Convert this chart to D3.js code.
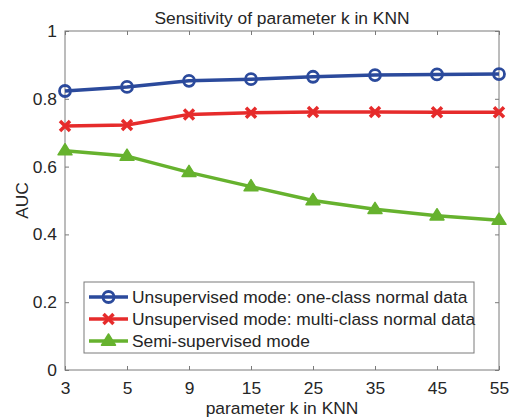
<!DOCTYPE html>
<html><head><meta charset="utf-8">
<script src="https://cdn.jsdelivr.net/npm/d3@7"></script>
<style>
body{margin:0;background:#fff;}
text{font-family:"Liberation Sans",Arial,sans-serif;fill:#262626;}
</style></head>
<body><svg id="c" width="510" height="418"></svg>
<script>
const categories = ["3","5","9","15","25","35","45","55"];
const oneClass = [0.823,0.835,0.853,0.858,0.865,0.870,0.872,0.873];
const multiClass = [0.720,0.723,0.754,0.759,0.761,0.761,0.760,0.760];
const semiSup = [0.647,0.631,0.583,0.541,0.500,0.474,0.455,0.442];
const yTicks = [0,0.2,0.4,0.6,0.8,1];
const seriesNames = ["Unsupervised mode: one-class normal data","Unsupervised mode: multi-class normal data","Semi-supervised mode"];
const colors = ["#2b4a9c","#e62b2b","#66b22e"];
const markers = ["circle","cross","triangle"];

const svg = d3.select("#c");
const L=65,R=499,T=31,B=370;
const FS="17.4px";
const x = d3.scalePoint().domain(categories).range([L,R]);
const y = d3.scaleLinear().domain([0,1]).range([B,T]);
const axisColor="#7a7a7a";

svg.append("rect").attr("x",L).attr("y",T).attr("width",R-L).attr("height",B-T)
  .attr("fill","none").attr("stroke",axisColor).attr("stroke-width",1);

const gx = svg.append("g").attr("transform",`translate(0,${B})`)
  .call(d3.axisBottom(x).tickSizeInner(-4).tickSizeOuter(0).tickPadding(12));
const gxt = svg.append("g").attr("transform",`translate(0,${T})`)
  .call(d3.axisTop(x).tickSizeInner(-4).tickSizeOuter(0).tickFormat(""));
const gy = svg.append("g").attr("transform",`translate(${L},0)`)
  .call(d3.axisLeft(y).tickValues(yTicks).tickSizeInner(-4).tickSizeOuter(0).tickPadding(8).tickFormat(d3.format("")));
const gyr = svg.append("g").attr("transform",`translate(${R},0)`)
  .call(d3.axisRight(y).tickValues(yTicks).tickSizeInner(-4).tickSizeOuter(0).tickFormat(""));
[gx,gxt,gy,gyr].forEach(g=>{
  g.select(".domain").remove();
  g.selectAll(".tick line").attr("stroke",axisColor);
  g.selectAll("text").attr("font-size",FS).attr("fill","#3a3a3a").attr("font-family","Liberation Sans, Arial, sans-serif");
});

const allSeries=[oneClass,multiClass,semiSup];
const line = d3.line().x((d,i)=>x(categories[i])).y(d=>y(d));

function drawMarker(g,type,cx,cy,color){
  if(type==="circle"){
    g.append("circle").attr("cx",cx).attr("cy",cy).attr("r",5.5)
      .attr("fill","none").attr("stroke",color).attr("stroke-width",2.8);
  } else if(type==="cross"){
    const s=5;
    g.append("path").attr("d",`M${cx-s},${cy-s}L${cx+s},${cy+s}M${cx-s},${cy+s}L${cx+s},${cy-s}`)
      .attr("stroke",color).attr("stroke-width",3.5).attr("fill","none");
  } else {
    const s=7;
    g.append("path").attr("d",`M${cx},${cy-s}L${cx+s},${cy+s*0.6}L${cx-s},${cy+s*0.6}Z`)
      .attr("fill",color).attr("stroke",color).attr("stroke-width",1.5).attr("stroke-linejoin","round");
  }
}

allSeries.forEach((s,k)=>{
  const g=svg.append("g");
  g.append("path").datum(s).attr("d",line).attr("fill","none")
    .attr("stroke",colors[k]).attr("stroke-width",3.5).attr("stroke-linejoin","round");
  s.forEach((v,i)=>drawMarker(g,markers[k],x(categories[i]),y(v),colors[k]));
});

const lg = svg.append("g");
lg.append("rect").attr("x",84).attr("y",282).attr("width",390).attr("height",71)
  .attr("fill","#fff").attr("stroke",axisColor).attr("stroke-width",1);
seriesNames.forEach((n,k)=>{
  const cy=297+k*22;
  lg.append("line").attr("x1",89).attr("x2",128).attr("y1",cy).attr("y2",cy)
    .attr("stroke",colors[k]).attr("stroke-width",3.5);
  drawMarker(lg,markers[k],108.5,cy,colors[k]);
  lg.append("text").attr("x",132).attr("y",cy+6).attr("font-size",FS).text(n);
});

svg.append("text").attr("x",(L+R)/2).attr("y",24).attr("text-anchor","middle")
  .attr("font-size",FS).text("Sensitivity of parameter k in KNN");
svg.append("text").attr("x",(L+R)/2).attr("y",414).attr("text-anchor","middle")
  .attr("font-size",FS).attr("fill","#3a3a3a").text("parameter k in KNN");
svg.append("text").attr("transform",`translate(28,${(T+B)/2}) rotate(-90)`).attr("text-anchor","middle")
  .attr("font-size",FS).attr("fill","#3a3a3a").text("AUC");
</script></body></html>
